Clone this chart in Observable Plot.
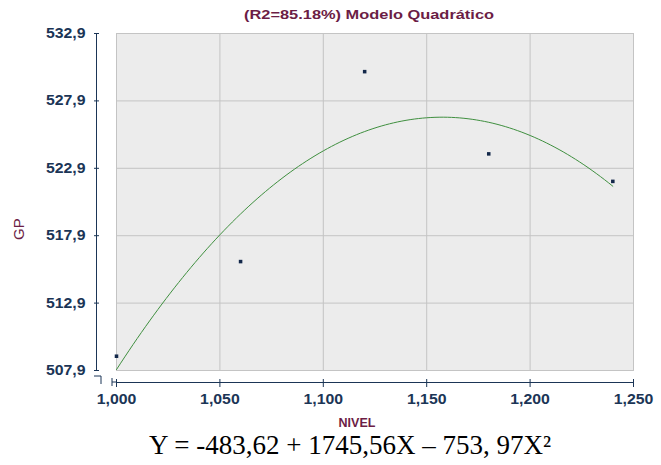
<!DOCTYPE html>
<html>
<head>
<meta charset="utf-8">
<script src="https://cdn.jsdelivr.net/npm/d3@7"></script>
<script src="https://cdn.jsdelivr.net/npm/@observablehq/plot@0.6"></script>
<style>
  html, body { margin: 0; padding: 0; background: white; }
</style>
</head>
<body>
<div id="chart"></div>
<script>
// ---- data ----
const xTicks = [1.000, 1.050, 1.100, 1.150, 1.200, 1.250];
const yTicks = [507.9, 512.9, 517.9, 522.9, 527.9, 532.9];
const nivel = [1.00, 1.06, 1.12, 1.18, 1.24];
const gp = [508.96, 515.98, 530.07, 523.97, 521.93];
// fitted model stated on the chart: Y = -483,62 + 1745,56X - 753,97X²
const coef = [-483.62, 1745.56, -753.97];
const fitRange = [1.00, 1.24];
const titleText = "(R2=85.18%) Modelo Quadrático";
const xLabel = "NIVEL";
const yLabel = "GP";
const equation = "Y = -483,62 + 1745,56X \u2013 753, 97X\u00B2";

const points = nivel.map((x, i) => ({x, y: gp[i]}));
const curve = d3.range(fitRange[0], fitRange[1] + 1e-9, 0.002)
  .map(x => ({x, y: coef[0] + coef[1] * x + coef[2] * x * x}));

const comma = f => v => d3.format(f)(v).replace(".", ",");
const maroon = "#6c1d45";
const navy = "#1b3556";

const plot = Plot.plot({
  width: 661,
  height: 465,
  marginTop: 33,
  marginBottom: 95,
  marginLeft: 116,
  marginRight: 28,
  x: {domain: [1.0, 1.25]},
  y: {domain: [507.9, 532.9]},
  style: {background: "white", color: navy, fontFamily: "'Liberation Sans', Arial, sans-serif"},
  marks: [
    Plot.frame({fill: "#ececec"}),
    Plot.gridX(xTicks, {stroke: "#c4c4c4", strokeOpacity: 1}),
    Plot.gridY(yTicks, {stroke: "#c4c4c4", strokeOpacity: 1}),
    Plot.frame({stroke: "#c4c4c4"}),
    Plot.line(curve, {x: "x", y: "y", stroke: "#3f8f3f", strokeWidth: 1}),
    Plot.dot(points, {x: "x", y: "y", symbol: "square", r: 2, fill: "#13284a"}),
    // y axis
    Plot.ruleX([1.0], {y1: 507.9, y2: 532.9, dx: -20, stroke: navy}),
    Plot.axisY(yTicks, {tickSize: 5, tickPadding: 9, dx: -17, tickFormat: comma(".1f"),
      fontSize: 14, fontWeight: "bold", label: null}),
    // x axis
    Plot.ruleY([507.9], {x1: 1.0, x2: 1.25, dy: 12, stroke: navy}),
    Plot.axisX(xTicks, {tickSize: 8, tickPadding: 7, dy: 9, tickFormat: comma(".3f"),
      fontSize: 14, fontWeight: "bold", label: null}),
    // titles
    Plot.text([titleText], {frameAnchor: "top", dx: -6, dy: -19, lineAnchor: "middle",
      fontSize: 13, fontWeight: "bold", fill: maroon}),
    Plot.text([xLabel], {frameAnchor: "bottom", dx: -18, dy: 52, lineAnchor: "middle",
      fontSize: 12.5, fontWeight: "bold", fill: maroon}),
    Plot.text([yLabel], {frameAnchor: "left", dx: -97, dy: 38, rotate: -90, lineAnchor: "middle",
      fontSize: 15, fill: maroon}),
    Plot.text([equation], {frameAnchor: "bottom", dx: -25, dy: 74.5, lineAnchor: "middle",
      fontSize: 27, fontFamily: "'Liberation Serif', 'Times New Roman', serif", fill: "black"})
  ]
});

document.getElementById("chart").append(plot);

// horizontal stretching of the Arial-like labels (the source image is widened)
plot.querySelectorAll('g[aria-label="y-axis tick label"] text, g[aria-label="x-axis tick label"] text').forEach(t => {
  const w = t.getComputedTextLength();
  t.setAttribute("textLength", w * 1.13);
  t.setAttribute("lengthAdjust", "spacingAndGlyphs");
});
plot.querySelectorAll('g[aria-label="text"] text').forEach(t => {
  if (t.textContent === titleText) {
    t.setAttribute("textLength", 250);
    t.setAttribute("lengthAdjust", "spacingAndGlyphs");
  }
});

// axis break glyph at the origin
const sx = plot.scale("x"), sy = plot.scale("y");
const x0 = sx.apply(1.0), y0 = sy.apply(507.9);
const ns = "http://www.w3.org/2000/svg";
const path = document.createElementNS(ns, "path");
path.setAttribute("d",
  `M${x0 - 22},${y0 + 6} H${x0 - 15} V${y0 + 14}` +
  `M${x0 - 4},${y0 + 8} V${y0 + 16} M${x0 - 4},${y0 + 12} H${x0}`);
path.setAttribute("fill", "none");
path.setAttribute("stroke", navy);
plot.append(path);
</script>
</body>
</html>
